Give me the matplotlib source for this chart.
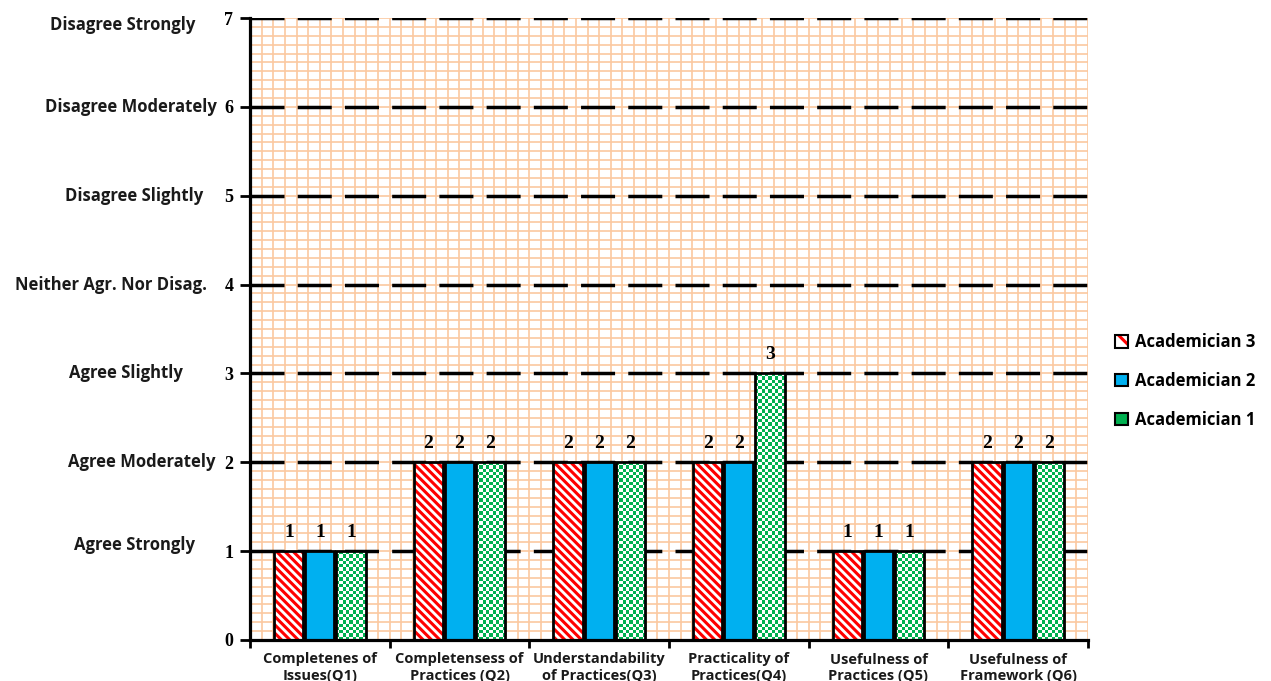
import numpy as np
import matplotlib.pyplot as plt
from matplotlib.patches import Patch
from matplotlib import transforms

questions = ['Completenes of\nIssues(Q1)', 'Completensess of\nPractices (Q2)',
             'Understandability\nof Practices(Q3)', 'Practicality of\nPractices(Q4)',
             'Usefulness of\nPractices (Q5)', 'Usefulness of\nFramework (Q6)']
academician_3 = [1, 2, 2, 2, 1, 2]
academician_2 = [1, 2, 2, 2, 1, 2]
academician_1 = [1, 2, 2, 3, 1, 2]

scale_levels = [1, 2, 3, 4, 5, 6, 7]
scale_labels = ['Agree Strongly', 'Agree Moderately', 'Agree Slightly',
                'Neither Agr. Nor Disag.', 'Disagree Slightly',
                'Disagree Moderately', 'Disagree Strongly']

RED = '#ff0000'
BLUE = '#00b0f0'
GREEN = '#00b050'
GRID = '#fbc8a0'
SANS = 'Open Sans'
SERIF = 'Liberation Serif'

plt.rcParams['lines.scale_dashes'] = False
plt.rcParams['hatch.linewidth'] = 2.2

fig = plt.figure(figsize=(12.71, 6.81), dpi=100)
ax = fig.add_axes([250 / 1271, 41 / 681, 838 / 1271, 622 / 681])
ax.set_xlim(-0.5, 5.5)
ax.set_ylim(0, 7)

# fine orange graph-paper grid
for xv in np.arange(-0.5, 5.5 + 1e-9, 1 / 12):
    ax.axvline(xv, color=GRID, lw=1.2, zorder=0)
for yv in np.arange(0, 7.0 + 1e-9, 0.1):
    ax.axhline(yv, color=GRID, lw=1.2, zorder=0)

# dashed black lines at each scale level
for yv in scale_levels:
    ax.axhline(yv, color='black', lw=2.5, dashes=(24.5, 9.5), zorder=1)

x = np.arange(len(questions))
w = 0.21
off = 0.222

# Academician 3: red diagonal stripes
ax.bar(x - off, academician_3, w, color='white', edgecolor=RED,
       hatch='\\\\\\\\', lw=0, zorder=3)
ax.bar(x - off, academician_3, w, fill=False, edgecolor='black', lw=2, zorder=4)

# Academician 2: solid blue
ax.bar(x, academician_2, w, color=BLUE, edgecolor='black', lw=2, zorder=4)

# Academician 1: green checkerboard
green_bars = ax.bar(x + off, academician_1, w, color='white', lw=0, zorder=3)
green_rgb = np.array([0, 176, 80]) / 255
for bar, h in zip(green_bars, academician_1):
    nx = 9
    ny = int(round(h * 27))
    cells = np.add.outer(np.arange(ny), np.arange(nx)) % 2
    img = np.ones((ny, nx, 3))
    img[cells == 1] = green_rgb
    x0 = bar.get_x()
    im = ax.imshow(img, extent=(x0, x0 + w, 0, h), origin='lower',
                   interpolation='nearest', aspect='auto', zorder=3.5)
    im.set_clip_path(bar)
ax.bar(x + off, academician_1, w, fill=False, edgecolor='black', lw=2, zorder=4)

ax.set_xlim(-0.5, 5.5)
ax.set_ylim(0, 7)

# value labels above the bars
for series, dx in ((academician_3, -off), (academician_2, 0), (academician_1, off)):
    for xi, v in zip(x, series):
        ax.text(xi + dx, v + 0.16, str(v), ha='center', va='baseline',
                family=SERIF, weight='bold', fontsize=14, zorder=5)

# axes, ticks and labels
ax.set_xticks(np.arange(-0.5, 6, 1))
ax.set_xticklabels([])
ax.set_xticks(x, questions, minor=True)
ax.tick_params(axis='x', which='major', length=6, width=2, direction='out')
ax.tick_params(axis='x', which='minor', length=0, pad=9)
for lbl in ax.get_xticklabels(minor=True):
    lbl.set_family(SANS)
    lbl.set_weight('bold')
    lbl.set_fontsize(10.5)
    lbl.set_color('#1a1a1a')
    lbl.set_linespacing(1.25)

ax.set_yticks(range(8))
ax.tick_params(axis='y', length=7, width=2, direction='out', pad=5)
for lbl in ax.get_yticklabels():
    lbl.set_family(SERIF)
    lbl.set_weight('bold')
    lbl.set_fontsize(13)

for side in ('top', 'right'):
    ax.spines[side].set_visible(False)
for side in ('left', 'bottom'):
    ax.spines[side].set_linewidth(2.3)
    ax.spines[side].set_zorder(6)

# Likert scale descriptions beside the y ticks
trans = transforms.blended_transform_factory(fig.transFigure, ax.transData)
label_right = [195, 215, 183, 207, 203, 217, 195]
label_shift = [0.07, 0, 0, 0, 0, 0, -0.08]
for lvl, txt, xr, dy in zip(scale_levels, scale_labels, label_right, label_shift):
    fig.text(xr / 1271, lvl + dy, txt, transform=trans, ha='right', va='center',
             family=SANS, weight='bold', fontsize=12, color='#1a1a1a')

handles = [
    (Patch(facecolor='white', edgecolor=RED, hatch='\\\\', lw=0),
     Patch(fill=False, edgecolor='black', lw=1.5)),
    Patch(facecolor=BLUE, edgecolor='black', lw=1.5),
    Patch(facecolor=GREEN, edgecolor='black', lw=1.5),
]
fig.legend(handles, ['Academician 3', 'Academician 2', 'Academician 1'],
           loc='upper left', bbox_to_anchor=(1100 / 1271, 1 - 318 / 681),
           frameon=False, handlelength=0.8, handleheight=0.8, handletextpad=0.4,
           labelspacing=1.25, prop={'family': SANS, 'weight': 'bold', 'size': 12})

fig.savefig('out.png', dpi=100)
